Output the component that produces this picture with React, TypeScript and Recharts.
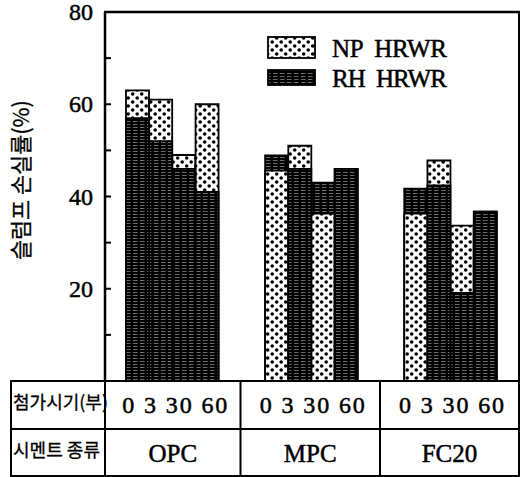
import React from 'react';
import { BarChart, Bar, XAxis, YAxis, Cell } from 'recharts';

const cementTypes = ['OPC', 'MPC', 'FC20'];
const addTimes = ['0', '3', '30', '60'];
const npHRWR = [63, 61, 49, 60, 45.6, 51, 36.3, 46, 36.3, 47.8, 33.7, 36.7];
const rhHRWR = [57, 52, 46, 41, 48.9, 46, 43, 46, 41.7, 42.4, 19.1, 36.7];
const yTicks = [0, 10, 20, 30, 40, 50, 60, 70, 80];
const yLabels = [20, 40, 60, 80];
const seriesNames = ['NP  HRWR', 'RH  HRWR'];
const yTitle = '슬럼프 손실률(%)';
const rowTitles = ['첨가시기(부)', '시멘트 종류'];

type Row = {
  slot: string;
  back: number | null;
  front: number | null;
  backSeries: 'np' | 'rh' | null;
  frontSeries: 'np' | 'rh' | null;
};

function buildRows(): Row[] {
  const rows: Row[] = [];
  cementTypes.forEach((c, gi) => {
    if (gi > 0) {
      rows.push({ slot: `gap-${gi}-a`, back: null, front: null, backSeries: null, frontSeries: null });
      rows.push({ slot: `gap-${gi}-b`, back: null, front: null, backSeries: null, frontSeries: null });
    }
    addTimes.forEach((t, ti) => {
      const k = gi * addTimes.length + ti;
      const np = npHRWR[k];
      const rh = rhHRWR[k];
      const npBack = np >= rh;
      rows.push({
        slot: `${c}-${t}`,
        back: Math.max(np, rh),
        front: Math.min(np, rh),
        backSeries: npBack ? 'np' : 'rh',
        frontSeries: npBack ? 'rh' : 'np',
      });
    });
  });
  return rows;
}

const fillOf = (s: 'np' | 'rh' | null) => (s === 'np' ? 'url(#npPat)' : 'url(#rhPat)');

const SERIF = '"Liberation Serif", "Times New Roman", serif';
const KR = '"Noto Sans CJK KR", sans-serif';
const heavy = { stroke: '#000', strokeWidth: 0.5 };

const YTick = (props: any) => {
  const { x, y, payload } = props;
  const v = payload.value;
  return (
    <g>
      <line x1={x} x2={x + 6} y1={y} y2={y} stroke="#000" strokeWidth={2} />
      {yLabels.includes(v) && (
        <text x={x - 12} y={y + 8} textAnchor="end" fontFamily={SERIF} fontSize={24} fill="#000" {...heavy}>
          {v}
        </text>
      )}
    </g>
  );
};

export default function App() {
  const data = buildRows();
  const tableLeft = 11;
  const tableRight = 519;
  const tableTop = 381;
  const tableMid = 429;
  const tableBottom = 476;
  const colX = [105, 240.5, 380, 519];
  return (
    <div style={{ position: 'fixed', left: 0, top: 0, width: 527, height: 477, background: '#fff' }}>
      <BarChart
        width={527}
        height={477}
        data={data}
        margin={{ top: 12, right: 8, bottom: 96, left: 45 }}
        barCategoryGap={0}
        barGap={0}
      >
        <defs>
          <pattern id="npPat" patternUnits="userSpaceOnUse" width={9} height={8}>
            <rect x={0} y={0} width={9} height={8} fill="#fff" />
            <circle cx={2.2} cy={2} r={1.8} fill="#000" />
            <circle cx={6.7} cy={6} r={1.8} fill="#000" />
          </pattern>
          <pattern id="rhPat" patternUnits="userSpaceOnUse" width={7} height={3}>
            <rect x={0} y={0} width={7} height={3} fill="#000" />
            <rect x={0} y={1.2} width={4.5} height={0.6} fill="#fff" opacity={0.7} />
          </pattern>
        </defs>
        <XAxis xAxisId="back" dataKey="slot" hide padding={{ left: 21, right: 22 }} />
        <XAxis xAxisId="front" dataKey="slot" hide padding={{ left: 21, right: 22 }} />
        <YAxis
          domain={[0, 80]}
          ticks={yTicks}
          interval={0}
          width={60}
          tickSize={0}
          tickMargin={0}
          tickLine={false}
          axisLine={{ stroke: '#000', strokeWidth: 2.5 }}
          tick={<YTick />}
        />
        <Bar xAxisId="back" dataKey="back" isAnimationActive={false} stroke="#000" strokeWidth={1.8}>
          {data.map((d, i) => (
            <Cell key={`b${i}`} fill={fillOf(d.backSeries)} />
          ))}
        </Bar>
        <Bar xAxisId="front" dataKey="front" isAnimationActive={false} stroke="#000" strokeWidth={1.8}>
          {data.map((d, i) => (
            <Cell key={`f${i}`} fill={fillOf(d.frontSeries)} />
          ))}
        </Bar>
      </BarChart>
      <svg
        style={{ position: 'absolute', left: 0, top: 0, pointerEvents: 'none' }}
        width={527}
        height={477}
      >
        {/* plot frame */}
        <line x1={104} x2={520} y1={12} y2={12} stroke="#000" strokeWidth={2.5} />
        <line x1={519} x2={519} y1={11} y2={381} stroke="#000" strokeWidth={2} />
        {/* y title */}
        <text
          transform="translate(29,180) rotate(-90)"
          textAnchor="middle"
          fontFamily={KR}
          fontSize={22}
          textLength={160}
          lengthAdjust="spacingAndGlyphs"
          fill="#000"
          stroke="#000"
          strokeWidth={0.3}
        >
          {yTitle}
        </text>
        {/* legend */}
        <rect x={268} y={37} width={47} height={21} fill="url(#npPat)" stroke="#000" strokeWidth={1.8} />
        <rect x={268} y={70} width={47} height={15} fill="url(#rhPat)" stroke="#000" strokeWidth={1.8} />
        <text x={332} y={57} fontFamily={SERIF} fontSize={25} textLength={115} lengthAdjust="spacing" fill="#000" style={{ whiteSpace: 'pre' }} {...heavy}>
          {seriesNames[0]}
        </text>
        <text x={332} y={87} fontFamily={SERIF} fontSize={25} textLength={115} lengthAdjust="spacing" fill="#000" style={{ whiteSpace: 'pre' }} {...heavy}>
          {seriesNames[1]}
        </text>
        {/* table */}
        <rect
          x={tableLeft}
          y={tableTop}
          width={tableRight - tableLeft}
          height={tableBottom - tableTop}
          fill="none"
          stroke="#000"
          strokeWidth={2}
        />
        <line x1={tableLeft} x2={tableRight} y1={tableMid} y2={tableMid} stroke="#000" strokeWidth={2} />
        {colX.slice(0, 3).map((x, i) => (
          <line key={`v${i}`} x1={x} x2={x} y1={tableTop} y2={tableBottom} stroke="#000" strokeWidth={2} />
        ))}
        <text x={13} y={409} fontFamily={KR} fontSize={18} textLength={95} lengthAdjust="spacingAndGlyphs" fill="#000" stroke="#000" strokeWidth={0.3}>
          {rowTitles[0]}
        </text>
        <text x={13} y={457} fontFamily={KR} fontSize={18} textLength={87} lengthAdjust="spacingAndGlyphs" fill="#000" stroke="#000" strokeWidth={0.3}>
          {rowTitles[1]}
        </text>
        {cementTypes.map((c, i) => {
          const cx = (colX[i] + colX[i + 1]) / 2;
          return (
            <g key={c}>
              <text
                x={cx + 2}
                y={413}
                textAnchor="middle"
                fontFamily={SERIF}
                fontSize={24}
                textLength={105}
                lengthAdjust="spacing"
                fill="#000"
                {...heavy}
              >
                {addTimes.join(' ')}
              </text>
              <text x={cx} y={462} textAnchor="middle" fontFamily={SERIF} fontSize={25} fill="#000" {...heavy}>
                {c}
              </text>
            </g>
          );
        })}
      </svg>
    </div>
  );
}
